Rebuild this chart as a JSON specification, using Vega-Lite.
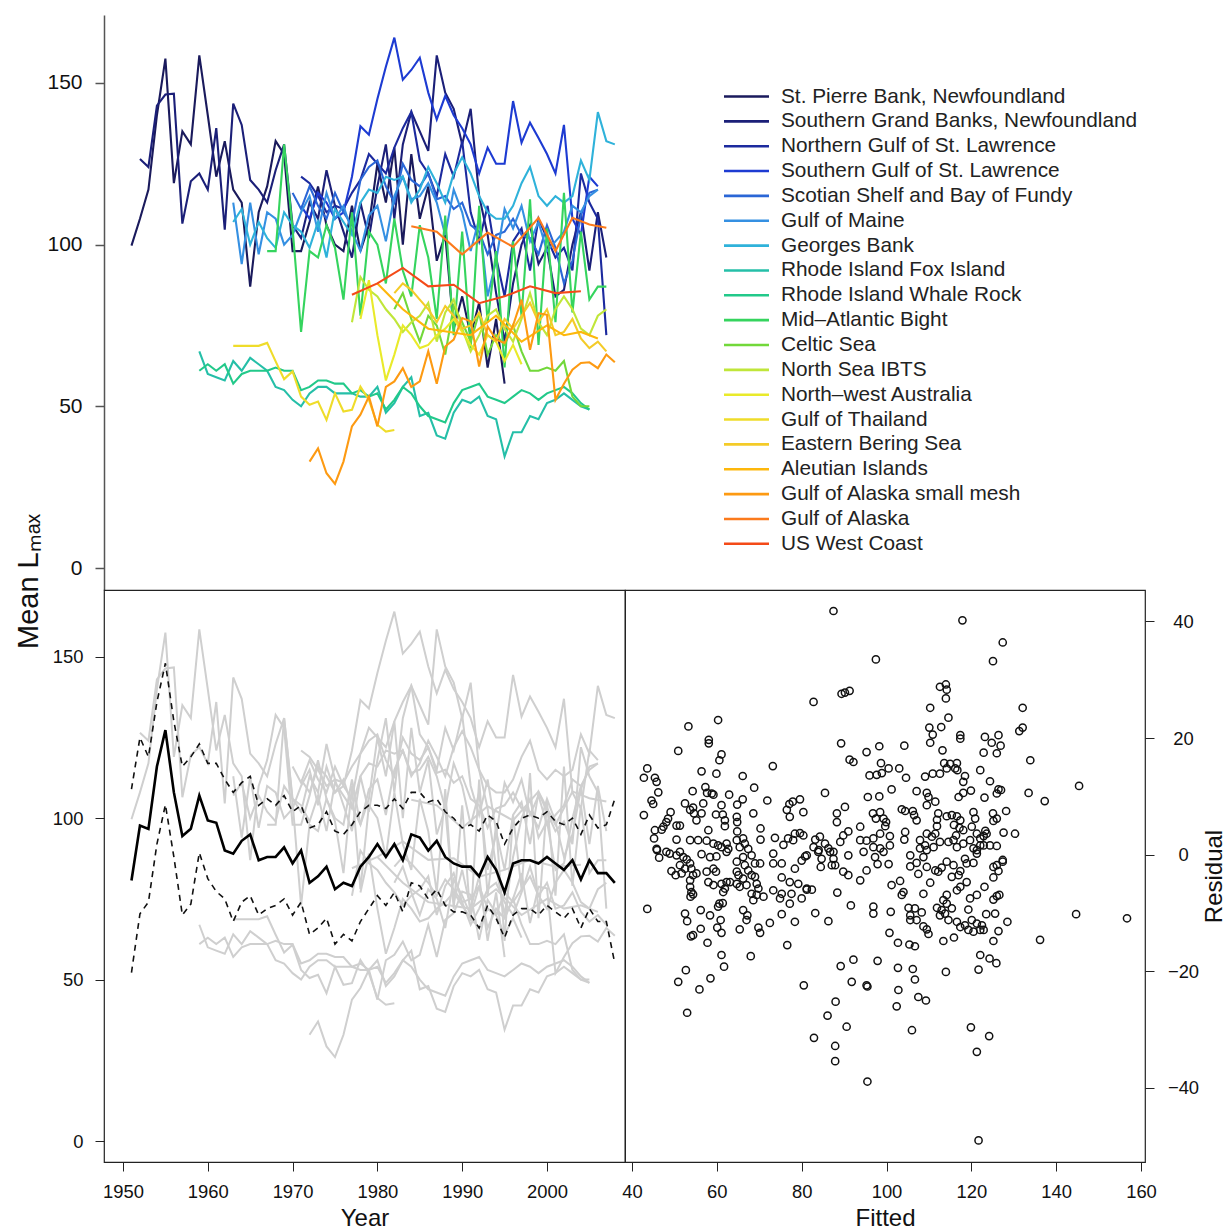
{
"$schema": "https://vega.github.io/schema/vega-lite/v6.json",
"background": "white",
"padding": {"left": 14, "top": 15, "right": 2, "bottom": 2},
"config": {
  "font": "Liberation Sans",
  "view": {"stroke": null},
  "axis": {"grid": false, "labelFont": "Liberation Sans", "titleFont": "Liberation Sans", "labelColor": "#111", "titleColor": "#111", "titleFontWeight": "normal", "domainColor": "#222", "tickColor": "#222"}
},
"datasets": {
"series": [
{"region":"St. Pierre Bank, Newfoundland","year":1951,"lmax":99.7},{"region":"St. Pierre Bank, Newfoundland","year":1952,"lmax":108},{"region":"St. Pierre Bank, Newfoundland","year":1953,"lmax":117},{"region":"St. Pierre Bank, Newfoundland","year":1954,"lmax":140},{"region":"St. Pierre Bank, Newfoundland","year":1955,"lmax":157.5},{"region":"St. Pierre Bank, Newfoundland","year":1956,"lmax":119},{"region":"St. Pierre Bank, Newfoundland","year":1957,"lmax":135},{"region":"St. Pierre Bank, Newfoundland","year":1958,"lmax":131},{"region":"St. Pierre Bank, Newfoundland","year":1959,"lmax":158.5},{"region":"St. Pierre Bank, Newfoundland","year":1960,"lmax":140},{"region":"St. Pierre Bank, Newfoundland","year":1961,"lmax":121},{"region":"St. Pierre Bank, Newfoundland","year":1962,"lmax":132},{"region":"St. Pierre Bank, Newfoundland","year":1963,"lmax":117},{"region":"St. Pierre Bank, Newfoundland","year":1964,"lmax":113},{"region":"St. Pierre Bank, Newfoundland","year":1965,"lmax":87},{"region":"St. Pierre Bank, Newfoundland","year":1966,"lmax":110},{"region":"St. Pierre Bank, Newfoundland","year":1967,"lmax":118},{"region":"St. Pierre Bank, Newfoundland","year":1968,"lmax":132},{"region":"St. Pierre Bank, Newfoundland","year":1969,"lmax":128},{"region":"St. Pierre Bank, Newfoundland","year":1970,"lmax":98},{"region":"St. Pierre Bank, Newfoundland","year":1971,"lmax":98},{"region":"St. Pierre Bank, Newfoundland","year":1972,"lmax":107},{"region":"St. Pierre Bank, Newfoundland","year":1973,"lmax":118},{"region":"St. Pierre Bank, Newfoundland","year":1974,"lmax":106},{"region":"St. Pierre Bank, Newfoundland","year":1975,"lmax":100},{"region":"St. Pierre Bank, Newfoundland","year":1976,"lmax":98},{"region":"St. Pierre Bank, Newfoundland","year":1977,"lmax":112},{"region":"St. Pierre Bank, Newfoundland","year":1978,"lmax":98},{"region":"St. Pierre Bank, Newfoundland","year":1979,"lmax":106},{"region":"St. Pierre Bank, Newfoundland","year":1980,"lmax":125},{"region":"St. Pierre Bank, Newfoundland","year":1981,"lmax":113},{"region":"St. Pierre Bank, Newfoundland","year":1982,"lmax":130},{"region":"St. Pierre Bank, Newfoundland","year":1983,"lmax":100},{"region":"St. Pierre Bank, Newfoundland","year":1984,"lmax":128},{"region":"St. Pierre Bank, Newfoundland","year":1985,"lmax":108},{"region":"St. Pierre Bank, Newfoundland","year":1986,"lmax":118},{"region":"St. Pierre Bank, Newfoundland","year":1987,"lmax":95},{"region":"St. Pierre Bank, Newfoundland","year":1988,"lmax":103},{"region":"St. Pierre Bank, Newfoundland","year":1989,"lmax":74},{"region":"St. Pierre Bank, Newfoundland","year":1990,"lmax":84},{"region":"St. Pierre Bank, Newfoundland","year":1991,"lmax":72},{"region":"St. Pierre Bank, Newfoundland","year":1992,"lmax":82},{"region":"St. Pierre Bank, Newfoundland","year":1993,"lmax":62},{"region":"St. Pierre Bank, Newfoundland","year":1994,"lmax":77},{"region":"St. Pierre Bank, Newfoundland","year":1995,"lmax":57},
{"region":"Southern Grand Banks, Newfoundland","year":1952,"lmax":126.5},{"region":"Southern Grand Banks, Newfoundland","year":1953,"lmax":124},{"region":"Southern Grand Banks, Newfoundland","year":1954,"lmax":143},{"region":"Southern Grand Banks, Newfoundland","year":1955,"lmax":146.4},{"region":"Southern Grand Banks, Newfoundland","year":1956,"lmax":146.7},{"region":"Southern Grand Banks, Newfoundland","year":1957,"lmax":106.5},{"region":"Southern Grand Banks, Newfoundland","year":1958,"lmax":119.6},{"region":"Southern Grand Banks, Newfoundland","year":1959,"lmax":122},{"region":"Southern Grand Banks, Newfoundland","year":1960,"lmax":117},{"region":"Southern Grand Banks, Newfoundland","year":1961,"lmax":136},{"region":"Southern Grand Banks, Newfoundland","year":1962,"lmax":104.6},{"region":"Southern Grand Banks, Newfoundland","year":1963,"lmax":143.6},{"region":"Southern Grand Banks, Newfoundland","year":1964,"lmax":137},{"region":"Southern Grand Banks, Newfoundland","year":1965,"lmax":120},{"region":"Southern Grand Banks, Newfoundland","year":1966,"lmax":117},{"region":"Southern Grand Banks, Newfoundland","year":1967,"lmax":113},{"region":"Southern Grand Banks, Newfoundland","year":1968,"lmax":123},{"region":"Southern Grand Banks, Newfoundland","year":1969,"lmax":131},{"region":"Southern Grand Banks, Newfoundland","year":1970,"lmax":106},{"region":"Southern Grand Banks, Newfoundland","year":1971,"lmax":102},{"region":"Southern Grand Banks, Newfoundland","year":1972,"lmax":113},{"region":"Southern Grand Banks, Newfoundland","year":1973,"lmax":108},{"region":"Southern Grand Banks, Newfoundland","year":1974,"lmax":123},{"region":"Southern Grand Banks, Newfoundland","year":1975,"lmax":112},{"region":"Southern Grand Banks, Newfoundland","year":1976,"lmax":104},{"region":"Southern Grand Banks, Newfoundland","year":1977,"lmax":96},{"region":"Southern Grand Banks, Newfoundland","year":1978,"lmax":113},{"region":"Southern Grand Banks, Newfoundland","year":1979,"lmax":102},{"region":"Southern Grand Banks, Newfoundland","year":1980,"lmax":118},{"region":"Southern Grand Banks, Newfoundland","year":1981,"lmax":131},{"region":"Southern Grand Banks, Newfoundland","year":1982,"lmax":108},{"region":"Southern Grand Banks, Newfoundland","year":1983,"lmax":131},{"region":"Southern Grand Banks, Newfoundland","year":1984,"lmax":141},{"region":"Southern Grand Banks, Newfoundland","year":1985,"lmax":135},{"region":"Southern Grand Banks, Newfoundland","year":1986,"lmax":129},{"region":"Southern Grand Banks, Newfoundland","year":1987,"lmax":158.5},{"region":"Southern Grand Banks, Newfoundland","year":1988,"lmax":147},{"region":"Southern Grand Banks, Newfoundland","year":1989,"lmax":142},{"region":"Southern Grand Banks, Newfoundland","year":1990,"lmax":131},{"region":"Southern Grand Banks, Newfoundland","year":1991,"lmax":142},{"region":"Southern Grand Banks, Newfoundland","year":1992,"lmax":115},{"region":"Southern Grand Banks, Newfoundland","year":1993,"lmax":103},{"region":"Southern Grand Banks, Newfoundland","year":1994,"lmax":85},{"region":"Southern Grand Banks, Newfoundland","year":1995,"lmax":70},{"region":"Southern Grand Banks, Newfoundland","year":1996,"lmax":88},{"region":"Southern Grand Banks, Newfoundland","year":1997,"lmax":100},{"region":"Southern Grand Banks, Newfoundland","year":1998,"lmax":106},{"region":"Southern Grand Banks, Newfoundland","year":1999,"lmax":94},{"region":"Southern Grand Banks, Newfoundland","year":2000,"lmax":99},{"region":"Southern Grand Banks, Newfoundland","year":2001,"lmax":84},{"region":"Southern Grand Banks, Newfoundland","year":2002,"lmax":86},{"region":"Southern Grand Banks, Newfoundland","year":2003,"lmax":100},{"region":"Southern Grand Banks, Newfoundland","year":2004,"lmax":110},{"region":"Southern Grand Banks, Newfoundland","year":2005,"lmax":92},{"region":"Southern Grand Banks, Newfoundland","year":2006,"lmax":110},{"region":"Southern Grand Banks, Newfoundland","year":2007,"lmax":96},
{"region":"Northern Gulf of St. Lawrence","year":1971,"lmax":121},{"region":"Northern Gulf of St. Lawrence","year":1972,"lmax":119},{"region":"Northern Gulf of St. Lawrence","year":1973,"lmax":115},{"region":"Northern Gulf of St. Lawrence","year":1974,"lmax":110},{"region":"Northern Gulf of St. Lawrence","year":1975,"lmax":112},{"region":"Northern Gulf of St. Lawrence","year":1976,"lmax":111},{"region":"Northern Gulf of St. Lawrence","year":1977,"lmax":116},{"region":"Northern Gulf of St. Lawrence","year":1978,"lmax":120},{"region":"Northern Gulf of St. Lawrence","year":1979,"lmax":128},{"region":"Northern Gulf of St. Lawrence","year":1980,"lmax":125},{"region":"Northern Gulf of St. Lawrence","year":1981,"lmax":122},{"region":"Northern Gulf of St. Lawrence","year":1982,"lmax":130},{"region":"Northern Gulf of St. Lawrence","year":1983,"lmax":136},{"region":"Northern Gulf of St. Lawrence","year":1984,"lmax":141},{"region":"Northern Gulf of St. Lawrence","year":1985,"lmax":126},{"region":"Northern Gulf of St. Lawrence","year":1986,"lmax":122},{"region":"Northern Gulf of St. Lawrence","year":1987,"lmax":115},{"region":"Northern Gulf of St. Lawrence","year":1988,"lmax":128},{"region":"Northern Gulf of St. Lawrence","year":1989,"lmax":121},{"region":"Northern Gulf of St. Lawrence","year":1990,"lmax":132},{"region":"Northern Gulf of St. Lawrence","year":1991,"lmax":110},{"region":"Northern Gulf of St. Lawrence","year":1992,"lmax":101},{"region":"Northern Gulf of St. Lawrence","year":1993,"lmax":112},{"region":"Northern Gulf of St. Lawrence","year":1994,"lmax":96},{"region":"Northern Gulf of St. Lawrence","year":1995,"lmax":84},{"region":"Northern Gulf of St. Lawrence","year":1996,"lmax":101},{"region":"Northern Gulf of St. Lawrence","year":1997,"lmax":105},{"region":"Northern Gulf of St. Lawrence","year":1998,"lmax":92},{"region":"Northern Gulf of St. Lawrence","year":1999,"lmax":108},{"region":"Northern Gulf of St. Lawrence","year":2000,"lmax":102},{"region":"Northern Gulf of St. Lawrence","year":2001,"lmax":96},{"region":"Northern Gulf of St. Lawrence","year":2002,"lmax":99},{"region":"Northern Gulf of St. Lawrence","year":2003,"lmax":92},{"region":"Northern Gulf of St. Lawrence","year":2004,"lmax":122},{"region":"Northern Gulf of St. Lawrence","year":2005,"lmax":113},{"region":"Northern Gulf of St. Lawrence","year":2006,"lmax":108},{"region":"Northern Gulf of St. Lawrence","year":2007,"lmax":72},
{"region":"Southern Gulf of St. Lawrence","year":1971,"lmax":112},{"region":"Southern Gulf of St. Lawrence","year":1972,"lmax":108},{"region":"Southern Gulf of St. Lawrence","year":1973,"lmax":116},{"region":"Southern Gulf of St. Lawrence","year":1974,"lmax":113},{"region":"Southern Gulf of St. Lawrence","year":1975,"lmax":108},{"region":"Southern Gulf of St. Lawrence","year":1976,"lmax":110},{"region":"Southern Gulf of St. Lawrence","year":1977,"lmax":121},{"region":"Southern Gulf of St. Lawrence","year":1978,"lmax":136.6},{"region":"Southern Gulf of St. Lawrence","year":1979,"lmax":134},{"region":"Southern Gulf of St. Lawrence","year":1980,"lmax":145},{"region":"Southern Gulf of St. Lawrence","year":1981,"lmax":155},{"region":"Southern Gulf of St. Lawrence","year":1982,"lmax":164},{"region":"Southern Gulf of St. Lawrence","year":1983,"lmax":151},{"region":"Southern Gulf of St. Lawrence","year":1984,"lmax":154},{"region":"Southern Gulf of St. Lawrence","year":1985,"lmax":157.8},{"region":"Southern Gulf of St. Lawrence","year":1986,"lmax":147},{"region":"Southern Gulf of St. Lawrence","year":1987,"lmax":138.7},{"region":"Southern Gulf of St. Lawrence","year":1988,"lmax":146},{"region":"Southern Gulf of St. Lawrence","year":1989,"lmax":140},{"region":"Southern Gulf of St. Lawrence","year":1990,"lmax":136},{"region":"Southern Gulf of St. Lawrence","year":1991,"lmax":131},{"region":"Southern Gulf of St. Lawrence","year":1992,"lmax":122},{"region":"Southern Gulf of St. Lawrence","year":1993,"lmax":130},{"region":"Southern Gulf of St. Lawrence","year":1994,"lmax":125},{"region":"Southern Gulf of St. Lawrence","year":1995,"lmax":125},{"region":"Southern Gulf of St. Lawrence","year":1996,"lmax":144.4},{"region":"Southern Gulf of St. Lawrence","year":1997,"lmax":131.5},{"region":"Southern Gulf of St. Lawrence","year":1998,"lmax":137.7},{"region":"Southern Gulf of St. Lawrence","year":1999,"lmax":133},{"region":"Southern Gulf of St. Lawrence","year":2000,"lmax":128},{"region":"Southern Gulf of St. Lawrence","year":2001,"lmax":122},{"region":"Southern Gulf of St. Lawrence","year":2002,"lmax":137},{"region":"Southern Gulf of St. Lawrence","year":2003,"lmax":108},{"region":"Southern Gulf of St. Lawrence","year":2004,"lmax":103},{"region":"Southern Gulf of St. Lawrence","year":2005,"lmax":121},{"region":"Southern Gulf of St. Lawrence","year":2006,"lmax":118},
{"region":"Scotian Shelf and Bay of Fundy","year":1970,"lmax":116},{"region":"Scotian Shelf and Bay of Fundy","year":1971,"lmax":111},{"region":"Scotian Shelf and Bay of Fundy","year":1972,"lmax":118},{"region":"Scotian Shelf and Bay of Fundy","year":1973,"lmax":112},{"region":"Scotian Shelf and Bay of Fundy","year":1974,"lmax":108},{"region":"Scotian Shelf and Bay of Fundy","year":1975,"lmax":116},{"region":"Scotian Shelf and Bay of Fundy","year":1976,"lmax":110},{"region":"Scotian Shelf and Bay of Fundy","year":1977,"lmax":106},{"region":"Scotian Shelf and Bay of Fundy","year":1978,"lmax":120},{"region":"Scotian Shelf and Bay of Fundy","year":1979,"lmax":124},{"region":"Scotian Shelf and Bay of Fundy","year":1980,"lmax":126},{"region":"Scotian Shelf and Bay of Fundy","year":1981,"lmax":118},{"region":"Scotian Shelf and Bay of Fundy","year":1982,"lmax":113},{"region":"Scotian Shelf and Bay of Fundy","year":1983,"lmax":125},{"region":"Scotian Shelf and Bay of Fundy","year":1984,"lmax":120},{"region":"Scotian Shelf and Bay of Fundy","year":1985,"lmax":118},{"region":"Scotian Shelf and Bay of Fundy","year":1986,"lmax":122},{"region":"Scotian Shelf and Bay of Fundy","year":1987,"lmax":114},{"region":"Scotian Shelf and Bay of Fundy","year":1988,"lmax":115},{"region":"Scotian Shelf and Bay of Fundy","year":1989,"lmax":111},{"region":"Scotian Shelf and Bay of Fundy","year":1990,"lmax":113},{"region":"Scotian Shelf and Bay of Fundy","year":1991,"lmax":106},{"region":"Scotian Shelf and Bay of Fundy","year":1992,"lmax":104},{"region":"Scotian Shelf and Bay of Fundy","year":1993,"lmax":97},{"region":"Scotian Shelf and Bay of Fundy","year":1994,"lmax":103},{"region":"Scotian Shelf and Bay of Fundy","year":1995,"lmax":104},{"region":"Scotian Shelf and Bay of Fundy","year":1996,"lmax":108},{"region":"Scotian Shelf and Bay of Fundy","year":1997,"lmax":103},{"region":"Scotian Shelf and Bay of Fundy","year":1998,"lmax":102},{"region":"Scotian Shelf and Bay of Fundy","year":1999,"lmax":97},{"region":"Scotian Shelf and Bay of Fundy","year":2000,"lmax":106},{"region":"Scotian Shelf and Bay of Fundy","year":2001,"lmax":99},{"region":"Scotian Shelf and Bay of Fundy","year":2002,"lmax":88},{"region":"Scotian Shelf and Bay of Fundy","year":2003,"lmax":95},{"region":"Scotian Shelf and Bay of Fundy","year":2004,"lmax":109},{"region":"Scotian Shelf and Bay of Fundy","year":2005,"lmax":116},{"region":"Scotian Shelf and Bay of Fundy","year":2006,"lmax":117},
{"region":"Gulf of Maine","year":1963,"lmax":113},{"region":"Gulf of Maine","year":1964,"lmax":94},{"region":"Gulf of Maine","year":1965,"lmax":113},{"region":"Gulf of Maine","year":1966,"lmax":97},{"region":"Gulf of Maine","year":1967,"lmax":110},{"region":"Gulf of Maine","year":1968,"lmax":108},{"region":"Gulf of Maine","year":1969,"lmax":100},{"region":"Gulf of Maine","year":1970,"lmax":103},{"region":"Gulf of Maine","year":1971,"lmax":110},{"region":"Gulf of Maine","year":1972,"lmax":115},{"region":"Gulf of Maine","year":1973,"lmax":104},{"region":"Gulf of Maine","year":1974,"lmax":116},{"region":"Gulf of Maine","year":1975,"lmax":108},{"region":"Gulf of Maine","year":1976,"lmax":112},{"region":"Gulf of Maine","year":1977,"lmax":104},{"region":"Gulf of Maine","year":1978,"lmax":98},{"region":"Gulf of Maine","year":1979,"lmax":109},{"region":"Gulf of Maine","year":1980,"lmax":112},{"region":"Gulf of Maine","year":1981,"lmax":101},{"region":"Gulf of Maine","year":1982,"lmax":115},{"region":"Gulf of Maine","year":1983,"lmax":121},{"region":"Gulf of Maine","year":1984,"lmax":114},{"region":"Gulf of Maine","year":1985,"lmax":115},{"region":"Gulf of Maine","year":1986,"lmax":119},{"region":"Gulf of Maine","year":1987,"lmax":113},{"region":"Gulf of Maine","year":1988,"lmax":103},{"region":"Gulf of Maine","year":1989,"lmax":117},{"region":"Gulf of Maine","year":1990,"lmax":110},{"region":"Gulf of Maine","year":1991,"lmax":98},{"region":"Gulf of Maine","year":1992,"lmax":108},{"region":"Gulf of Maine","year":1993,"lmax":84},{"region":"Gulf of Maine","year":1994,"lmax":95},{"region":"Gulf of Maine","year":1995,"lmax":111},{"region":"Gulf of Maine","year":1996,"lmax":105},{"region":"Gulf of Maine","year":1997,"lmax":112},{"region":"Gulf of Maine","year":1998,"lmax":101},{"region":"Gulf of Maine","year":1999,"lmax":107},{"region":"Gulf of Maine","year":2000,"lmax":98},{"region":"Gulf of Maine","year":2001,"lmax":101},{"region":"Gulf of Maine","year":2002,"lmax":104},{"region":"Gulf of Maine","year":2003,"lmax":112},{"region":"Gulf of Maine","year":2004,"lmax":110},{"region":"Gulf of Maine","year":2005,"lmax":115},{"region":"Gulf of Maine","year":2006,"lmax":117},
{"region":"Georges Bank","year":1963,"lmax":107},{"region":"Georges Bank","year":1964,"lmax":111},{"region":"Georges Bank","year":1965,"lmax":100},{"region":"Georges Bank","year":1966,"lmax":107},{"region":"Georges Bank","year":1967,"lmax":102},{"region":"Georges Bank","year":1968,"lmax":99},{"region":"Georges Bank","year":1969,"lmax":110},{"region":"Georges Bank","year":1970,"lmax":106},{"region":"Georges Bank","year":1971,"lmax":104},{"region":"Georges Bank","year":1972,"lmax":99},{"region":"Georges Bank","year":1973,"lmax":107},{"region":"Georges Bank","year":1974,"lmax":96},{"region":"Georges Bank","year":1975,"lmax":111},{"region":"Georges Bank","year":1976,"lmax":107},{"region":"Georges Bank","year":1977,"lmax":103},{"region":"Georges Bank","year":1978,"lmax":113},{"region":"Georges Bank","year":1979,"lmax":117},{"region":"Georges Bank","year":1980,"lmax":116},{"region":"Georges Bank","year":1981,"lmax":121},{"region":"Georges Bank","year":1982,"lmax":120},{"region":"Georges Bank","year":1983,"lmax":121},{"region":"Georges Bank","year":1984,"lmax":113},{"region":"Georges Bank","year":1985,"lmax":117},{"region":"Georges Bank","year":1986,"lmax":124},{"region":"Georges Bank","year":1987,"lmax":119},{"region":"Georges Bank","year":1988,"lmax":113},{"region":"Georges Bank","year":1989,"lmax":122},{"region":"Georges Bank","year":1990,"lmax":127},{"region":"Georges Bank","year":1991,"lmax":122},{"region":"Georges Bank","year":1992,"lmax":115},{"region":"Georges Bank","year":1993,"lmax":110},{"region":"Georges Bank","year":1994,"lmax":108},{"region":"Georges Bank","year":1995,"lmax":108},{"region":"Georges Bank","year":1996,"lmax":112},{"region":"Georges Bank","year":1997,"lmax":119},{"region":"Georges Bank","year":1998,"lmax":124},{"region":"Georges Bank","year":1999,"lmax":115},{"region":"Georges Bank","year":2000,"lmax":112},{"region":"Georges Bank","year":2001,"lmax":115},{"region":"Georges Bank","year":2002,"lmax":113},{"region":"Georges Bank","year":2003,"lmax":115},{"region":"Georges Bank","year":2004,"lmax":126},{"region":"Georges Bank","year":2005,"lmax":120},{"region":"Georges Bank","year":2006,"lmax":141},{"region":"Georges Bank","year":2007,"lmax":132},{"region":"Georges Bank","year":2008,"lmax":131},
{"region":"Rhode Island Fox Island","year":1959,"lmax":67},{"region":"Rhode Island Fox Island","year":1960,"lmax":60},{"region":"Rhode Island Fox Island","year":1961,"lmax":59},{"region":"Rhode Island Fox Island","year":1962,"lmax":58},{"region":"Rhode Island Fox Island","year":1963,"lmax":64},{"region":"Rhode Island Fox Island","year":1964,"lmax":61},{"region":"Rhode Island Fox Island","year":1965,"lmax":65},{"region":"Rhode Island Fox Island","year":1966,"lmax":63},{"region":"Rhode Island Fox Island","year":1967,"lmax":61},{"region":"Rhode Island Fox Island","year":1968,"lmax":56},{"region":"Rhode Island Fox Island","year":1969,"lmax":55},{"region":"Rhode Island Fox Island","year":1970,"lmax":52},{"region":"Rhode Island Fox Island","year":1971,"lmax":50},{"region":"Rhode Island Fox Island","year":1972,"lmax":54},{"region":"Rhode Island Fox Island","year":1973,"lmax":56},{"region":"Rhode Island Fox Island","year":1974,"lmax":56},{"region":"Rhode Island Fox Island","year":1975,"lmax":54},{"region":"Rhode Island Fox Island","year":1976,"lmax":54},{"region":"Rhode Island Fox Island","year":1977,"lmax":54},{"region":"Rhode Island Fox Island","year":1978,"lmax":53},{"region":"Rhode Island Fox Island","year":1979,"lmax":53},{"region":"Rhode Island Fox Island","year":1980,"lmax":56},{"region":"Rhode Island Fox Island","year":1981,"lmax":48},{"region":"Rhode Island Fox Island","year":1982,"lmax":51},{"region":"Rhode Island Fox Island","year":1983,"lmax":56},{"region":"Rhode Island Fox Island","year":1984,"lmax":59},{"region":"Rhode Island Fox Island","year":1985,"lmax":47},{"region":"Rhode Island Fox Island","year":1986,"lmax":48},{"region":"Rhode Island Fox Island","year":1987,"lmax":41},{"region":"Rhode Island Fox Island","year":1988,"lmax":40},{"region":"Rhode Island Fox Island","year":1989,"lmax":48},{"region":"Rhode Island Fox Island","year":1990,"lmax":52},{"region":"Rhode Island Fox Island","year":1991,"lmax":51},{"region":"Rhode Island Fox Island","year":1992,"lmax":53},{"region":"Rhode Island Fox Island","year":1993,"lmax":47},{"region":"Rhode Island Fox Island","year":1994,"lmax":46},{"region":"Rhode Island Fox Island","year":1995,"lmax":34.5},{"region":"Rhode Island Fox Island","year":1996,"lmax":42},{"region":"Rhode Island Fox Island","year":1997,"lmax":42},{"region":"Rhode Island Fox Island","year":1998,"lmax":47},{"region":"Rhode Island Fox Island","year":1999,"lmax":46},{"region":"Rhode Island Fox Island","year":2000,"lmax":51},{"region":"Rhode Island Fox Island","year":2001,"lmax":52},{"region":"Rhode Island Fox Island","year":2002,"lmax":54},{"region":"Rhode Island Fox Island","year":2003,"lmax":52},{"region":"Rhode Island Fox Island","year":2004,"lmax":50},{"region":"Rhode Island Fox Island","year":2005,"lmax":49},
{"region":"Rhode Island Whale Rock","year":1959,"lmax":61},{"region":"Rhode Island Whale Rock","year":1960,"lmax":63},{"region":"Rhode Island Whale Rock","year":1961,"lmax":61},{"region":"Rhode Island Whale Rock","year":1962,"lmax":63},{"region":"Rhode Island Whale Rock","year":1963,"lmax":57},{"region":"Rhode Island Whale Rock","year":1964,"lmax":60},{"region":"Rhode Island Whale Rock","year":1965,"lmax":61},{"region":"Rhode Island Whale Rock","year":1966,"lmax":61},{"region":"Rhode Island Whale Rock","year":1967,"lmax":61},{"region":"Rhode Island Whale Rock","year":1968,"lmax":62},{"region":"Rhode Island Whale Rock","year":1969,"lmax":61},{"region":"Rhode Island Whale Rock","year":1970,"lmax":61},{"region":"Rhode Island Whale Rock","year":1971,"lmax":55},{"region":"Rhode Island Whale Rock","year":1972,"lmax":56},{"region":"Rhode Island Whale Rock","year":1973,"lmax":58},{"region":"Rhode Island Whale Rock","year":1974,"lmax":58},{"region":"Rhode Island Whale Rock","year":1975,"lmax":57},{"region":"Rhode Island Whale Rock","year":1976,"lmax":57},{"region":"Rhode Island Whale Rock","year":1977,"lmax":54},{"region":"Rhode Island Whale Rock","year":1978,"lmax":55},{"region":"Rhode Island Whale Rock","year":1979,"lmax":53},{"region":"Rhode Island Whale Rock","year":1980,"lmax":54},{"region":"Rhode Island Whale Rock","year":1981,"lmax":49},{"region":"Rhode Island Whale Rock","year":1982,"lmax":52},{"region":"Rhode Island Whale Rock","year":1983,"lmax":56},{"region":"Rhode Island Whale Rock","year":1984,"lmax":54},{"region":"Rhode Island Whale Rock","year":1985,"lmax":50},{"region":"Rhode Island Whale Rock","year":1986,"lmax":47},{"region":"Rhode Island Whale Rock","year":1987,"lmax":46},{"region":"Rhode Island Whale Rock","year":1988,"lmax":45},{"region":"Rhode Island Whale Rock","year":1989,"lmax":51},{"region":"Rhode Island Whale Rock","year":1990,"lmax":55},{"region":"Rhode Island Whale Rock","year":1991,"lmax":56},{"region":"Rhode Island Whale Rock","year":1992,"lmax":57},{"region":"Rhode Island Whale Rock","year":1993,"lmax":53},{"region":"Rhode Island Whale Rock","year":1994,"lmax":52},{"region":"Rhode Island Whale Rock","year":1995,"lmax":51},{"region":"Rhode Island Whale Rock","year":1996,"lmax":53},{"region":"Rhode Island Whale Rock","year":1997,"lmax":55},{"region":"Rhode Island Whale Rock","year":1998,"lmax":54},{"region":"Rhode Island Whale Rock","year":1999,"lmax":52},{"region":"Rhode Island Whale Rock","year":2000,"lmax":54},{"region":"Rhode Island Whale Rock","year":2001,"lmax":55},{"region":"Rhode Island Whale Rock","year":2002,"lmax":56},{"region":"Rhode Island Whale Rock","year":2003,"lmax":54},{"region":"Rhode Island Whale Rock","year":2004,"lmax":51},{"region":"Rhode Island Whale Rock","year":2005,"lmax":49},
{"region":"Mid–Atlantic Bight","year":1967,"lmax":98},{"region":"Mid–Atlantic Bight","year":1968,"lmax":98},{"region":"Mid–Atlantic Bight","year":1969,"lmax":131},{"region":"Mid–Atlantic Bight","year":1970,"lmax":105},{"region":"Mid–Atlantic Bight","year":1971,"lmax":73},{"region":"Mid–Atlantic Bight","year":1972,"lmax":98},{"region":"Mid–Atlantic Bight","year":1973,"lmax":96},{"region":"Mid–Atlantic Bight","year":1974,"lmax":106},{"region":"Mid–Atlantic Bight","year":1975,"lmax":99},{"region":"Mid–Atlantic Bight","year":1976,"lmax":83},{"region":"Mid–Atlantic Bight","year":1977,"lmax":110},{"region":"Mid–Atlantic Bight","year":1978,"lmax":78},{"region":"Mid–Atlantic Bight","year":1979,"lmax":104},{"region":"Mid–Atlantic Bight","year":1980,"lmax":100},{"region":"Mid–Atlantic Bight","year":1981,"lmax":88},{"region":"Mid–Atlantic Bight","year":1982,"lmax":108},{"region":"Mid–Atlantic Bight","year":1983,"lmax":92},{"region":"Mid–Atlantic Bight","year":1984,"lmax":84},{"region":"Mid–Atlantic Bight","year":1985,"lmax":106},{"region":"Mid–Atlantic Bight","year":1986,"lmax":96},{"region":"Mid–Atlantic Bight","year":1987,"lmax":77},{"region":"Mid–Atlantic Bight","year":1988,"lmax":109},{"region":"Mid–Atlantic Bight","year":1989,"lmax":72},{"region":"Mid–Atlantic Bight","year":1990,"lmax":104},{"region":"Mid–Atlantic Bight","year":1991,"lmax":68},{"region":"Mid–Atlantic Bight","year":1992,"lmax":112},{"region":"Mid–Atlantic Bight","year":1993,"lmax":76},{"region":"Mid–Atlantic Bight","year":1994,"lmax":98},{"region":"Mid–Atlantic Bight","year":1995,"lmax":62},{"region":"Mid–Atlantic Bight","year":1996,"lmax":101},{"region":"Mid–Atlantic Bight","year":1997,"lmax":78},{"region":"Mid–Atlantic Bight","year":1998,"lmax":114},{"region":"Mid–Atlantic Bight","year":1999,"lmax":69},{"region":"Mid–Atlantic Bight","year":2000,"lmax":105},{"region":"Mid–Atlantic Bight","year":2001,"lmax":76},{"region":"Mid–Atlantic Bight","year":2002,"lmax":116},{"region":"Mid–Atlantic Bight","year":2003,"lmax":79},{"region":"Mid–Atlantic Bight","year":2004,"lmax":104},{"region":"Mid–Atlantic Bight","year":2005,"lmax":83},{"region":"Mid–Atlantic Bight","year":2006,"lmax":87},{"region":"Mid–Atlantic Bight","year":2007,"lmax":87},
{"region":"Celtic Sea","year":1982,"lmax":80},{"region":"Celtic Sea","year":1983,"lmax":85},{"region":"Celtic Sea","year":1984,"lmax":77},{"region":"Celtic Sea","year":1985,"lmax":70},{"region":"Celtic Sea","year":1986,"lmax":78},{"region":"Celtic Sea","year":1987,"lmax":75},{"region":"Celtic Sea","year":1988,"lmax":66},{"region":"Celtic Sea","year":1989,"lmax":81},{"region":"Celtic Sea","year":1990,"lmax":76},{"region":"Celtic Sea","year":1991,"lmax":70},{"region":"Celtic Sea","year":1992,"lmax":79},{"region":"Celtic Sea","year":1993,"lmax":66},{"region":"Celtic Sea","year":1994,"lmax":72},{"region":"Celtic Sea","year":1995,"lmax":69},{"region":"Celtic Sea","year":1996,"lmax":75},{"region":"Celtic Sea","year":1997,"lmax":67},{"region":"Celtic Sea","year":1998,"lmax":61},{"region":"Celtic Sea","year":1999,"lmax":61},{"region":"Celtic Sea","year":2000,"lmax":62},{"region":"Celtic Sea","year":2001,"lmax":61},{"region":"Celtic Sea","year":2002,"lmax":64},{"region":"Celtic Sea","year":2003,"lmax":53},{"region":"Celtic Sea","year":2004,"lmax":50},{"region":"Celtic Sea","year":2005,"lmax":50},
{"region":"North Sea IBTS","year":1977,"lmax":76},{"region":"North Sea IBTS","year":1978,"lmax":90},{"region":"North Sea IBTS","year":1979,"lmax":86},{"region":"North Sea IBTS","year":1980,"lmax":84},{"region":"North Sea IBTS","year":1981,"lmax":80},{"region":"North Sea IBTS","year":1982,"lmax":77},{"region":"North Sea IBTS","year":1983,"lmax":73},{"region":"North Sea IBTS","year":1984,"lmax":76},{"region":"North Sea IBTS","year":1985,"lmax":78},{"region":"North Sea IBTS","year":1986,"lmax":82},{"region":"North Sea IBTS","year":1987,"lmax":70},{"region":"North Sea IBTS","year":1988,"lmax":79},{"region":"North Sea IBTS","year":1989,"lmax":83},{"region":"North Sea IBTS","year":1990,"lmax":74},{"region":"North Sea IBTS","year":1991,"lmax":67},{"region":"North Sea IBTS","year":1992,"lmax":72},{"region":"North Sea IBTS","year":1993,"lmax":78},{"region":"North Sea IBTS","year":1994,"lmax":80},{"region":"North Sea IBTS","year":1995,"lmax":74},{"region":"North Sea IBTS","year":1996,"lmax":70},{"region":"North Sea IBTS","year":1997,"lmax":77},{"region":"North Sea IBTS","year":1998,"lmax":85},{"region":"North Sea IBTS","year":1999,"lmax":76},{"region":"North Sea IBTS","year":2000,"lmax":72},{"region":"North Sea IBTS","year":2001,"lmax":80},{"region":"North Sea IBTS","year":2002,"lmax":84},{"region":"North Sea IBTS","year":2003,"lmax":80},{"region":"North Sea IBTS","year":2004,"lmax":74},{"region":"North Sea IBTS","year":2005,"lmax":72},{"region":"North Sea IBTS","year":2006,"lmax":78},{"region":"North Sea IBTS","year":2007,"lmax":80},
{"region":"North–west Australia","year":1978,"lmax":77},{"region":"North–west Australia","year":1979,"lmax":89},{"region":"North–west Australia","year":1980,"lmax":72},{"region":"North–west Australia","year":1981,"lmax":58},{"region":"North–west Australia","year":1982,"lmax":66},{"region":"North–west Australia","year":1983,"lmax":75},{"region":"North–west Australia","year":1984,"lmax":72},{"region":"North–west Australia","year":1985,"lmax":68},{"region":"North–west Australia","year":1986,"lmax":69},{"region":"North–west Australia","year":1987,"lmax":72},{"region":"North–west Australia","year":1988,"lmax":74},{"region":"North–west Australia","year":1989,"lmax":77},{"region":"North–west Australia","year":1990,"lmax":73},{"region":"North–west Australia","year":1991,"lmax":69},{"region":"North–west Australia","year":1992,"lmax":66},{"region":"North–west Australia","year":1993,"lmax":72},{"region":"North–west Australia","year":1994,"lmax":70},{"region":"North–west Australia","year":1995,"lmax":64},{"region":"North–west Australia","year":1996,"lmax":69},{"region":"North–west Australia","year":1997,"lmax":63},
{"region":"Gulf of Thailand","year":1963,"lmax":68.7},{"region":"Gulf of Thailand","year":1964,"lmax":68.7},{"region":"Gulf of Thailand","year":1965,"lmax":68.7},{"region":"Gulf of Thailand","year":1966,"lmax":68.7},{"region":"Gulf of Thailand","year":1967,"lmax":69.6},{"region":"Gulf of Thailand","year":1968,"lmax":63.9},{"region":"Gulf of Thailand","year":1969,"lmax":58.4},{"region":"Gulf of Thailand","year":1970,"lmax":60.8},{"region":"Gulf of Thailand","year":1971,"lmax":53},{"region":"Gulf of Thailand","year":1972,"lmax":50.5},{"region":"Gulf of Thailand","year":1973,"lmax":51.5},{"region":"Gulf of Thailand","year":1974,"lmax":45.8},{"region":"Gulf of Thailand","year":1975,"lmax":54},{"region":"Gulf of Thailand","year":1976,"lmax":48.4},{"region":"Gulf of Thailand","year":1977,"lmax":48.9},{"region":"Gulf of Thailand","year":1978,"lmax":56.1},{"region":"Gulf of Thailand","year":1979,"lmax":52},{"region":"Gulf of Thailand","year":1980,"lmax":44.3},{"region":"Gulf of Thailand","year":1981,"lmax":42.2},{"region":"Gulf of Thailand","year":1982,"lmax":42.7},
{"region":"Eastern Bering Sea","year":1982,"lmax":85},{"region":"Eastern Bering Sea","year":1983,"lmax":88},{"region":"Eastern Bering Sea","year":1984,"lmax":86},{"region":"Eastern Bering Sea","year":1985,"lmax":83},{"region":"Eastern Bering Sea","year":1986,"lmax":80},{"region":"Eastern Bering Sea","year":1987,"lmax":76},{"region":"Eastern Bering Sea","year":1988,"lmax":81},{"region":"Eastern Bering Sea","year":1989,"lmax":78},{"region":"Eastern Bering Sea","year":1990,"lmax":74},{"region":"Eastern Bering Sea","year":1991,"lmax":75},{"region":"Eastern Bering Sea","year":1992,"lmax":79},{"region":"Eastern Bering Sea","year":1993,"lmax":72},{"region":"Eastern Bering Sea","year":1994,"lmax":70},{"region":"Eastern Bering Sea","year":1995,"lmax":77},{"region":"Eastern Bering Sea","year":1996,"lmax":74},{"region":"Eastern Bering Sea","year":1997,"lmax":78},{"region":"Eastern Bering Sea","year":1998,"lmax":82},{"region":"Eastern Bering Sea","year":1999,"lmax":76},{"region":"Eastern Bering Sea","year":2000,"lmax":80},{"region":"Eastern Bering Sea","year":2001,"lmax":72},{"region":"Eastern Bering Sea","year":2002,"lmax":73},{"region":"Eastern Bering Sea","year":2003,"lmax":77},{"region":"Eastern Bering Sea","year":2004,"lmax":71},{"region":"Eastern Bering Sea","year":2005,"lmax":68},{"region":"Eastern Bering Sea","year":2006,"lmax":70},{"region":"Eastern Bering Sea","year":2007,"lmax":67},
{"region":"Aleutian Islands","year":1980,"lmax":88},{"region":"Aleutian Islands","year":1983,"lmax":80},{"region":"Aleutian Islands","year":1986,"lmax":74},{"region":"Aleutian Islands","year":1991,"lmax":72},{"region":"Aleutian Islands","year":1994,"lmax":78},{"region":"Aleutian Islands","year":1997,"lmax":70},{"region":"Aleutian Islands","year":2000,"lmax":75},{"region":"Aleutian Islands","year":2002,"lmax":72},{"region":"Aleutian Islands","year":2004,"lmax":73},{"region":"Aleutian Islands","year":2006,"lmax":71},
{"region":"Gulf of Alaska small mesh","year":1972,"lmax":32.9},{"region":"Gulf of Alaska small mesh","year":1973,"lmax":37},{"region":"Gulf of Alaska small mesh","year":1974,"lmax":29.3},{"region":"Gulf of Alaska small mesh","year":1975,"lmax":26},{"region":"Gulf of Alaska small mesh","year":1976,"lmax":32.9},{"region":"Gulf of Alaska small mesh","year":1977,"lmax":43.8},{"region":"Gulf of Alaska small mesh","year":1978,"lmax":47.4},{"region":"Gulf of Alaska small mesh","year":1979,"lmax":53},{"region":"Gulf of Alaska small mesh","year":1980,"lmax":43.8},{"region":"Gulf of Alaska small mesh","year":1981,"lmax":56},{"region":"Gulf of Alaska small mesh","year":1982,"lmax":57.7},{"region":"Gulf of Alaska small mesh","year":1983,"lmax":61.8},{"region":"Gulf of Alaska small mesh","year":1984,"lmax":56},{"region":"Gulf of Alaska small mesh","year":1985,"lmax":57.7},{"region":"Gulf of Alaska small mesh","year":1986,"lmax":67},{"region":"Gulf of Alaska small mesh","year":1987,"lmax":57},{"region":"Gulf of Alaska small mesh","year":1988,"lmax":68.5},{"region":"Gulf of Alaska small mesh","year":1989,"lmax":70.6},{"region":"Gulf of Alaska small mesh","year":1990,"lmax":77.3},{"region":"Gulf of Alaska small mesh","year":1991,"lmax":76.3},{"region":"Gulf of Alaska small mesh","year":1992,"lmax":62.3},{"region":"Gulf of Alaska small mesh","year":1993,"lmax":74.7},{"region":"Gulf of Alaska small mesh","year":1994,"lmax":70.6},{"region":"Gulf of Alaska small mesh","year":1995,"lmax":69.6},{"region":"Gulf of Alaska small mesh","year":1996,"lmax":75},{"region":"Gulf of Alaska small mesh","year":1997,"lmax":83},{"region":"Gulf of Alaska small mesh","year":1998,"lmax":67.5},{"region":"Gulf of Alaska small mesh","year":1999,"lmax":78.8},{"region":"Gulf of Alaska small mesh","year":2000,"lmax":78.3},{"region":"Gulf of Alaska small mesh","year":2001,"lmax":52},{"region":"Gulf of Alaska small mesh","year":2002,"lmax":57},{"region":"Gulf of Alaska small mesh","year":2003,"lmax":61.3},{"region":"Gulf of Alaska small mesh","year":2004,"lmax":63.4},{"region":"Gulf of Alaska small mesh","year":2005,"lmax":63.6},{"region":"Gulf of Alaska small mesh","year":2006,"lmax":61.8},{"region":"Gulf of Alaska small mesh","year":2007,"lmax":66},{"region":"Gulf of Alaska small mesh","year":2008,"lmax":63.6},
{"region":"Gulf of Alaska","year":1984,"lmax":105.7},{"region":"Gulf of Alaska","year":1987,"lmax":104},{"region":"Gulf of Alaska","year":1990,"lmax":97},{"region":"Gulf of Alaska","year":1993,"lmax":103.7},{"region":"Gulf of Alaska","year":1996,"lmax":99.3},{"region":"Gulf of Alaska","year":1999,"lmax":108.3},{"region":"Gulf of Alaska","year":2001,"lmax":98},{"region":"Gulf of Alaska","year":2003,"lmax":108.3},{"region":"Gulf of Alaska","year":2005,"lmax":106.2},{"region":"Gulf of Alaska","year":2007,"lmax":105.2},
{"region":"US West Coast","year":1977,"lmax":84.5},{"region":"US West Coast","year":1980,"lmax":88},{"region":"US West Coast","year":1983,"lmax":92.8},{"region":"US West Coast","year":1986,"lmax":87.1},{"region":"US West Coast","year":1989,"lmax":87.6},{"region":"US West Coast","year":1992,"lmax":81.9},{"region":"US West Coast","year":1995,"lmax":84},{"region":"US West Coast","year":1998,"lmax":87.1},{"region":"US West Coast","year":2001,"lmax":85},{"region":"US West Coast","year":2004,"lmax":85.6}
],
"band": [
{"year":1951,"mean":80.7,"upper":109,"lower":52.2},{"year":1952,"mean":97.7,"upper":125,"lower":70.4},{"year":1953,"mean":96.7,"upper":119,"lower":74},{"year":1954,"mean":116,"upper":136,"lower":92},{"year":1955,"mean":127.3,"upper":148,"lower":104.2},{"year":1956,"mean":108,"upper":130,"lower":88},{"year":1957,"mean":94.5,"upper":116,"lower":70},{"year":1958,"mean":96.7,"upper":119,"lower":73.4},{"year":1959,"mean":107,"upper":123,"lower":89.3},{"year":1960,"mean":99.3,"upper":117,"lower":81.3},{"year":1961,"mean":98.6,"upper":117,"lower":77.3},{"year":1962,"mean":90,"upper":112,"lower":75},{"year":1963,"mean":89,"upper":108,"lower":68},{"year":1964,"mean":93,"upper":111,"lower":74},{"year":1965,"mean":95,"upper":113,"lower":76},{"year":1966,"mean":87,"upper":104,"lower":70},{"year":1967,"mean":88,"upper":106,"lower":72},{"year":1968,"mean":88,"upper":104,"lower":73},{"year":1969,"mean":91,"upper":107,"lower":75},{"year":1970,"mean":86,"upper":102,"lower":70},{"year":1971,"mean":90,"upper":104,"lower":74},{"year":1972,"mean":80,"upper":97,"lower":64},{"year":1973,"mean":82,"upper":98,"lower":66},{"year":1974,"mean":85,"upper":102,"lower":69},{"year":1975,"mean":78,"upper":96,"lower":61},{"year":1976,"mean":80,"upper":95,"lower":64},{"year":1977,"mean":79,"upper":98,"lower":62},{"year":1978,"mean":85,"upper":102,"lower":68},{"year":1979,"mean":88,"upper":104,"lower":72},{"year":1980,"mean":92,"upper":104,"lower":76},{"year":1981,"mean":88,"upper":103,"lower":73},{"year":1982,"mean":92,"upper":106,"lower":77},{"year":1983,"mean":87,"upper":103,"lower":71},{"year":1984,"mean":95,"upper":108,"lower":80},{"year":1985,"mean":94,"upper":108,"lower":79},{"year":1986,"mean":90,"upper":105,"lower":75},{"year":1987,"mean":93,"upper":106,"lower":78},{"year":1988,"mean":88,"upper":102,"lower":73},{"year":1989,"mean":86,"upper":100,"lower":71},{"year":1990,"mean":85,"upper":97,"lower":71},{"year":1991,"mean":85,"upper":98,"lower":70},{"year":1992,"mean":82,"upper":96,"lower":66},{"year":1993,"mean":88,"upper":101,"lower":73},{"year":1994,"mean":84,"upper":99,"lower":69},{"year":1995,"mean":77,"upper":92,"lower":63},{"year":1996,"mean":86,"upper":97,"lower":70},{"year":1997,"mean":87,"upper":100,"lower":72},{"year":1998,"mean":87,"upper":101,"lower":72},{"year":1999,"mean":86,"upper":100,"lower":70},{"year":2000,"mean":88,"upper":102,"lower":73},{"year":2001,"mean":86,"upper":99,"lower":71},{"year":2002,"mean":84,"upper":98,"lower":69},{"year":2003,"mean":87,"upper":100,"lower":72},{"year":2004,"mean":81,"upper":95,"lower":66},{"year":2005,"mean":87,"upper":101,"lower":72},{"year":2006,"mean":83,"upper":97,"lower":68},{"year":2007,"mean":83,"upper":98,"lower":68},{"year":2008,"mean":80,"upper":106,"lower":55}
],
"resid": [
{"fitted":53.3,"residual":22.0},{"fitted":60.3,"residual":23.1},{"fitted":58.1,"residual":19.7},{"fitted":58.1,"residual":19.1},{"fitted":50.9,"residual":17.8},{"fitted":61.1,"residual":17.2},{"fitted":60.6,"residual":16.2},{"fitted":73.2,"residual":15.2},{"fitted":43.6,"residual":14.8},{"fitted":42.8,"residual":13.2},{"fitted":45.4,"residual":13.2},{"fitted":45.8,"residual":12.5},{"fitted":56.4,"residual":14.3},{"fitted":59.9,"residual":13.9},{"fitted":66.1,"residual":13.5},{"fitted":46.2,"residual":10.7},{"fitted":54.3,"residual":10.9},{"fitted":57.3,"residual":11.6},{"fitted":57.7,"residual":10.6},{"fitted":58.8,"residual":10.5},{"fitted":59.2,"residual":10.3},{"fitted":68.8,"residual":11.5},{"fitted":62.9,"residual":10.3},{"fitted":44.6,"residual":9.3},{"fitted":45.0,"residual":8.7},{"fitted":52.5,"residual":8.8},{"fitted":53.7,"residual":7.7},{"fitted":54.4,"residual":8.1},{"fitted":56.8,"residual":8.8},{"fitted":61.1,"residual":8.5},{"fitted":64.8,"residual":8.6},{"fitted":66.1,"residual":9.5},{"fitted":71.9,"residual":9.3},{"fitted":77.9,"residual":9.1},{"fitted":77.1,"residual":8.7},{"fitted":79.6,"residual":9.5},{"fitted":76.5,"residual":7.7},{"fitted":80.4,"residual":7.3},{"fitted":42.8,"residual":6.8},{"fitted":49.1,"residual":7.3},{"fitted":54.6,"residual":7.1},{"fitted":56.4,"residual":7.1},{"fitted":55.2,"residual":5.9},{"fitted":59.8,"residual":6.9},{"fitted":61.4,"residual":6.9},{"fitted":61.9,"residual":5.9},{"fitted":68.6,"residual":7.1},{"fitted":64.7,"residual":6.5},{"fitted":64.8,"residual":5.6},{"fitted":77.2,"residual":6.5},{"fitted":48.5,"residual":6.2},{"fitted":48.1,"residual":5.6},{"fitted":47.4,"residual":4.8},{"fitted":50.5,"residual":5.0},{"fitted":51.3,"residual":5.0},{"fitted":47.0,"residual":4.3},{"fitted":45.4,"residual":4.2},{"fitted":45.2,"residual":2.8},{"fitted":61.9,"residual":4.9},{"fitted":70.3,"residual":4.5},{"fitted":58.0,"residual":4.2},{"fitted":64.8,"residual":4.0},{"fitted":78.4,"residual":3.6},{"fitted":79.6,"residual":3.7},{"fitted":80.4,"residual":3.3},{"fitted":76.8,"residual":2.8},{"fitted":75.7,"residual":1.7},{"fitted":78.0,"residual":2.5},{"fitted":70.3,"residual":2.6},{"fitted":73.7,"residual":2.9},{"fitted":50.5,"residual":2.6},{"fitted":53.7,"residual":2.5},{"fitted":55.6,"residual":2.5},{"fitted":57.6,"residual":2.4},{"fitted":59.2,"residual":1.9},{"fitted":60.3,"residual":1.6},{"fitted":62.3,"residual":1.9},{"fitted":61.1,"residual":1.3},{"fitted":62.7,"residual":1.0},{"fitted":64.7,"residual":2.5},{"fitted":66.2,"residual":2.8},{"fitted":66.6,"residual":1.9},{"fitted":65.4,"residual":1.3},{"fitted":67.4,"residual":1.0},{"fitted":45.8,"residual":1.0},{"fitted":48.1,"residual":0.5},{"fitted":51.3,"residual":0.5},
{"fitted":45.9,"residual":0.8},{"fitted":46.4,"residual":-0.5},{"fitted":48.9,"residual":0.2},{"fitted":50.5,"residual":-0.1},{"fitted":52.1,"residual":-0.4},{"fitted":52.9,"residual":-0.8},{"fitted":53.7,"residual":-1.5},{"fitted":54.0,"residual":-2.4},{"fitted":51.3,"residual":-1.8},{"fitted":52.5,"residual":-2.4},{"fitted":49.3,"residual":-2.8},{"fitted":50.3,"residual":-3.5},{"fitted":51.7,"residual":-3.2},{"fitted":54.4,"residual":-3.5},{"fitted":55.2,"residual":-3.2},{"fitted":53.7,"residual":-4.4},{"fitted":56.4,"residual":0.1},{"fitted":58.4,"residual":-0.4},{"fitted":59.9,"residual":-0.3},{"fitted":62.3,"residual":0.5},{"fitted":57.6,"residual":-2.9},{"fitted":59.2,"residual":-2.4},{"fitted":59.8,"residual":-2.9},{"fitted":58.0,"residual":-4.7},{"fitted":59.2,"residual":-5.2},{"fitted":61.1,"residual":-5.0},{"fitted":61.9,"residual":-5.8},{"fitted":62.3,"residual":-4.7},{"fitted":63.1,"residual":-4.7},{"fitted":61.5,"residual":-6.4},{"fitted":64.7,"residual":-1.2},{"fitted":66.2,"residual":-0.4},{"fitted":66.6,"residual":-1.8},{"fitted":68.2,"residual":-0.1},{"fitted":69.0,"residual":-1.5},{"fitted":70.2,"residual":-1.5},{"fitted":67.4,"residual":-2.7},{"fitted":68.2,"residual":-3.5},{"fitted":69.0,"residual":-3.8},{"fitted":65.1,"residual":-3.5},{"fitted":66.2,"residual":-4.1},{"fitted":64.7,"residual":-5.0},{"fitted":65.4,"residual":-5.5},{"fitted":67.0,"residual":-5.2},{"fitted":69.4,"residual":-5.0},{"fitted":69.8,"residual":-5.8},{"fitted":68.2,"residual":-6.7},{"fitted":69.4,"residual":-6.9},{"fitted":71.0,"residual":-7.2},{"fitted":68.6,"residual":-7.8},{"fitted":64.7,"residual":-2.9},{"fitted":73.3,"residual":-1.5},{"fitted":75.3,"residual":-1.5},{"fitted":73.3,"residual":0.2},{"fitted":78.4,"residual":-2.4},{"fitted":80.0,"residual":-1.0},{"fitted":80.8,"residual":-0.3},{"fitted":75.3,"residual":-3.9},{"fitted":77.2,"residual":-4.7},{"fitted":79.2,"residual":-5.0},{"fitted":73.3,"residual":-6.1},{"fitted":75.3,"residual":-6.7},{"fitted":77.6,"residual":-6.7},{"fitted":80.0,"residual":-7.5},{"fitted":74.9,"residual":-7.5},{"fitted":77.2,"residual":-8.4},{"fitted":81.2,"residual":-5.8},{"fitted":53.7,"residual":-5.5},{"fitted":54.0,"residual":-6.4},{"fitted":54.4,"residual":-6.8},{"fitted":53.8,"residual":-7.2},{"fitted":43.6,"residual":-9.3},{"fitted":52.5,"residual":-10.1},{"fitted":53.0,"residual":-11.4},{"fitted":56.2,"residual":-9.5},{"fitted":58.4,"residual":-10.4},{"fitted":60.6,"residual":-8.4},{"fitted":61.4,"residual":-8.3},{"fitted":60.3,"residual":-8.9},{"fitted":60.9,"residual":-11.2},{"fitted":60.1,"residual":-12.5},{"fitted":61.1,"residual":-13.4},{"fitted":66.2,"residual":-9.5},{"fitted":67.2,"residual":-10.4},{"fitted":67.0,"residual":-11.2},{"fitted":56.2,"residual":-12.7},{"fitted":54.4,"residual":-13.8},{"fitted":53.9,"residual":-14.0},{"fitted":57.8,"residual":-15.1},{"fitted":65.4,"residual":-12.8},{"fitted":69.8,"residual":-12.5},{"fitted":70.2,"residual":-13.4},{"fitted":72.5,"residual":-11.7},{"fitted":75.3,"residual":-10.2},{"fitted":78.4,"residual":-11.5},{"fitted":76.6,"residual":-15.5},{"fitted":61.1,"residual":-17.2},{"fitted":68.0,"residual":-17.4},{"fitted":61.7,"residual":-19.2},{"fitted":52.7,"residual":-19.8},{"fitted":50.9,"residual":-21.8},{"fitted":58.5,"residual":-21.2},{"fitted":55.9,"residual":-23.1},{"fitted":53.0,"residual":-27.1},{"fitted":80.5,"residual":-22.4},
{"fitted":87.5,"residual":41.8},{"fitted":117.9,"residual":40.2},{"fitted":97.5,"residual":33.5},{"fitted":89.4,"residual":27.6},{"fitted":90.2,"residual":27.8},{"fitted":91.3,"residual":28.1},{"fitted":82.8,"residual":26.2},{"fitted":112.6,"residual":28.8},{"fitted":114.0,"residual":29.2},{"fitted":114.2,"residual":28.3},{"fitted":114.0,"residual":26.8},{"fitted":110.3,"residual":25.2},{"fitted":114.6,"residual":23.5},{"fitted":110.1,"residual":21.8},{"fitted":112.9,"residual":21.9},{"fitted":110.9,"residual":20.6},{"fitted":110.3,"residual":19.2},{"fitted":113.2,"residual":17.9},{"fitted":117.4,"residual":20.5},{"fitted":117.4,"residual":19.9},{"fitted":89.3,"residual":19.1},{"fitted":98.3,"residual":18.6},{"fitted":95.3,"residual":17.6},{"fitted":104.2,"residual":18.7},{"fitted":91.3,"residual":16.3},{"fitted":92.2,"residual":15.9},{"fitted":98.7,"residual":15.7},{"fitted":100.5,"residual":14.8},{"fitted":98.9,"residual":14.0},{"fitted":97.7,"residual":13.7},{"fitted":96.0,"residual":13.6},{"fitted":103.0,"residual":14.8},{"fitted":104.6,"residual":13.2},{"fitted":109.1,"residual":13.4},{"fitted":110.9,"residual":13.9},{"fitted":112.6,"residual":13.9},{"fitted":113.6,"residual":15.7},{"fitted":115.0,"residual":15.6},{"fitted":116.6,"residual":15.7},{"fitted":116.2,"residual":14.8},{"fitted":116.7,"residual":14.5},{"fitted":114.2,"residual":14.8},{"fitted":118.5,"residual":13.5},{"fitted":118.1,"residual":12.5},{"fitted":122.1,"residual":14.5},{"fitted":85.5,"residual":10.6},{"fitted":101.2,"residual":11.2},{"fitted":107.1,"residual":10.9},{"fitted":109.5,"residual":10.6},{"fitted":109.9,"residual":9.9},{"fitted":111.5,"residual":9.1},{"fitted":109.5,"residual":8.5},{"fitted":117.0,"residual":9.9},{"fitted":118.1,"residual":10.6},{"fitted":119.9,"residual":11.0},{"fitted":95.6,"residual":9.9},{"fitted":98.3,"residual":10.0},{"fitted":90.2,"residual":8.2},{"fitted":88.3,"residual":7.1},{"fitted":88.3,"residual":5.6},{"fitted":96.8,"residual":7.1},{"fitted":98.5,"residual":7.3},{"fitted":97.5,"residual":6.2},{"fitted":99.3,"residual":6.2},{"fitted":99.9,"residual":5.6},{"fitted":99.7,"residual":4.9},{"fitted":103.6,"residual":7.8},{"fitted":104.4,"residual":7.5},{"fitted":106.2,"residual":7.5},{"fitted":106.5,"residual":6.8},{"fitted":107.1,"residual":5.9},{"fitted":93.8,"residual":4.8},{"fitted":91.0,"residual":4.0},{"fitted":89.8,"residual":3.3},{"fitted":89.1,"residual":2.2},{"fitted":112.2,"residual":7.1},{"fitted":111.9,"residual":6.0},{"fitted":111.9,"residual":4.9},{"fitted":111.5,"residual":3.6},{"fitted":114.2,"residual":6.6},{"fitted":115.4,"residual":6.8},{"fitted":116.6,"residual":6.6},{"fitted":117.4,"residual":5.9},{"fitted":115.9,"residual":5.1},{"fitted":117.2,"residual":4.6},{"fitted":118.1,"residual":4.2},{"fitted":116.4,"residual":3.3},{"fitted":120.5,"residual":7.3},{"fitted":120.9,"residual":6.2},{"fitted":120.1,"residual":4.8},{"fitted":121.3,"residual":3.6},{"fitted":83.2,"residual":2.6},{"fitted":84.3,"residual":3.1},{"fitted":85.5,"residual":1.9},{"fitted":82.8,"residual":1.3},{"fitted":84.0,"residual":0.8},{"fitted":86.3,"residual":1.1},{"fitted":87.5,"residual":0.5},{"fitted":93.8,"residual":2.5},{"fitted":95.3,"residual":2.4},{"fitted":96.9,"residual":2.8},{"fitted":98.5,"residual":3.6},{"fitted":100.8,"residual":3.2},{"fitted":100.8,"residual":1.6},{"fitted":98.5,"residual":1.1},{"fitted":96.9,"residual":1.3},{"fitted":104.4,"residual":3.9},{"fitted":104.2,"residual":2.6},{"fitted":107.9,"residual":2.5},{"fitted":109.1,"residual":1.6},{"fitted":109.5,"residual":3.6},{"fitted":110.7,"residual":3.1},{"fitted":107.9,"residual":1.1},{"fitted":109.5,"residual":0.8},{"fitted":111.1,"residual":1.3},{"fitted":112.6,"residual":2.2},{"fitted":114.6,"residual":2.2},{"fitted":115.8,"residual":2.5},{"fitted":116.6,"residual":1.3},{"fitted":118.1,"residual":1.9},{"fitted":119.7,"residual":2.5},{"fitted":120.5,"residual":1.1},{"fitted":122.1,"residual":1.6},
{"fitted":81.2,"residual":-0.1},{"fitted":83.9,"residual":0.5},{"fitted":84.7,"residual":-0.7},{"fitted":86.7,"residual":0.5},{"fitted":87.5,"residual":-0.7},{"fitted":87.9,"residual":-1.8},{"fitted":91.0,"residual":-0.1},{"fitted":84.5,"residual":-2.1},{"fitted":87.1,"residual":-1.8},{"fitted":89.8,"residual":-2.9},{"fitted":91.0,"residual":-3.5},{"fitted":93.8,"residual":-4.4},{"fitted":95.3,"residual":-2.7},{"fitted":97.9,"residual":-1.6},{"fitted":100.5,"residual":-1.6},{"fitted":94.6,"residual":0.5},{"fitted":97.3,"residual":-0.4},{"fitted":99.3,"residual":0.5},{"fitted":105.6,"residual":-0.1},{"fitted":107.1,"residual":-1.4},{"fitted":108.7,"residual":-0.4},{"fitted":109.5,"residual":-2.1},{"fitted":107.5,"residual":-3.3},{"fitted":105.6,"residual":-2.0},{"fitted":111.5,"residual":-2.7},{"fitted":113.0,"residual":-2.2},{"fitted":112.2,"residual":-2.9},{"fitted":114.2,"residual":-1.2},{"fitted":115.8,"residual":-1.8},{"fitted":115.4,"residual":-3.8},{"fitted":117.4,"residual":-2.8},{"fitted":117.0,"residual":-3.5},{"fitted":118.5,"residual":-0.7},{"fitted":118.9,"residual":-1.5},{"fitted":120.5,"residual":-1.4},{"fitted":121.3,"residual":0.2},{"fitted":118.9,"residual":-4.7},{"fitted":117.4,"residual":-5.5},{"fitted":116.6,"residual":-6.1},{"fitted":119.7,"residual":-7.5},{"fitted":121.3,"residual":-6.9},{"fitted":114.2,"residual":-6.9},{"fitted":101.2,"residual":-5.2},{"fitted":103.2,"residual":-4.5},{"fitted":104.0,"residual":-6.4},{"fitted":103.6,"residual":-6.9},{"fitted":108.7,"residual":-6.7},{"fitted":110.3,"residual":-4.8},{"fitted":81.2,"residual":-6.0},{"fitted":82.4,"residual":-6.0},{"fitted":88.4,"residual":-6.5},{"fitted":91.6,"residual":-8.7},{"fitted":83.2,"residual":-10.0},{"fitted":86.3,"residual":-11.4},{"fitted":96.9,"residual":-8.9},{"fitted":96.9,"residual":-10.1},{"fitted":101.0,"residual":-9.8},{"fitted":105.2,"residual":-9.1},{"fitted":106.7,"residual":-9.2},{"fitted":105.6,"residual":-10.4},{"fitted":105.6,"residual":-11.2},{"fitted":107.1,"residual":-11.2},{"fitted":108.3,"residual":-9.9},{"fitted":108.7,"residual":-12.3},{"fitted":109.5,"residual":-12.8},{"fitted":109.9,"residual":-13.6},{"fitted":111.9,"residual":-9.1},{"fitted":112.6,"residual":-10.4},{"fitted":113.0,"residual":-9.5},{"fitted":113.8,"residual":-10.1},{"fitted":114.6,"residual":-11.2},{"fitted":115.4,"residual":-9.2},{"fitted":114.2,"residual":-8.4},{"fitted":113.4,"residual":-7.8},{"fitted":116.6,"residual":-11.5},{"fitted":117.4,"residual":-12.4},{"fitted":118.5,"residual":-12.1},{"fitted":119.3,"residual":-12.9},{"fitted":120.1,"residual":-11.2},{"fitted":121.3,"residual":-11.8},{"fitted":120.5,"residual":-13.2},{"fitted":122.1,"residual":-12.9},{"fitted":119.3,"residual":-9.4},{"fitted":100.7,"residual":-13.4},{"fitted":102.7,"residual":-15.1},{"fitted":105.4,"residual":-15.4},{"fitted":106.7,"residual":-15.7},{"fitted":113.4,"residual":-14.8},{"fitted":115.9,"residual":-14.2},{"fitted":122.1,"residual":-17.2},{"fitted":121.7,"residual":-19.7},{"fitted":89.2,"residual":-19.1},{"fitted":92.2,"residual":-18.0},{"fitted":97.9,"residual":-18.2},{"fitted":91.8,"residual":-21.8},{"fitted":95.3,"residual":-22.4},{"fitted":95.5,"residual":-22.6},{"fitted":102.7,"residual":-19.4},{"fitted":106.2,"residual":-19.6},{"fitted":106.7,"residual":-21.4},{"fitted":114.0,"residual":-20.1},{"fitted":102.8,"residual":-23.2},{"fitted":107.5,"residual":-24.4},{"fitted":109.3,"residual":-25.0},{"fitted":102.4,"residual":-26.0},{"fitted":88.0,"residual":-25.2},{"fitted":86.1,"residual":-27.6},{"fitted":90.6,"residual":-29.5},{"fitted":82.9,"residual":-31.4},{"fitted":87.9,"residual":-32.8},{"fitted":87.9,"residual":-35.4},{"fitted":95.5,"residual":-38.9},{"fitted":106.0,"residual":-30.1},{"fitted":119.9,"residual":-29.6},{"fitted":121.3,"residual":-33.8},
{"fitted":127.4,"residual":36.4},{"fitted":125.1,"residual":33.2},{"fitted":132.1,"residual":25.2},{"fitted":132.1,"residual":21.8},{"fitted":131.3,"residual":21.2},{"fitted":123.2,"residual":20.2},{"fitted":126.4,"residual":20.5},{"fitted":124.8,"residual":19.2},{"fitted":126.9,"residual":18.7},{"fitted":122.9,"residual":17.5},{"fitted":126.0,"residual":17.4},{"fitted":133.9,"residual":16.2},{"fitted":124.4,"residual":12.6},{"fitted":126.4,"residual":11.2},{"fitted":127.0,"residual":11.1},{"fitted":126.0,"residual":10.5},{"fitted":123.1,"residual":9.8},{"fitted":133.5,"residual":10.6},{"fitted":137.3,"residual":9.2},{"fitted":145.4,"residual":11.8},{"fitted":125.1,"residual":7.1},{"fitted":126.0,"residual":6.2},{"fitted":125.2,"residual":5.8},{"fitted":128.2,"residual":7.5},{"fitted":123.3,"residual":4.1},{"fitted":123.6,"residual":3.6},{"fitted":122.9,"residual":3.2},{"fitted":122.1,"residual":2.8},{"fitted":122.9,"residual":1.6},{"fitted":124.4,"residual":1.6},{"fitted":126.0,"residual":1.5},{"fitted":127.6,"residual":3.8},{"fitted":130.3,"residual":3.6},{"fitted":121.3,"residual":0.8},{"fitted":127.4,"residual":-0.9},
{"fitted":125.2,"residual":-2.1},{"fitted":126.0,"residual":-1.8},{"fitted":126.4,"residual":-2.8},{"fitted":127.4,"residual":-1.2},{"fitted":125.2,"residual":-3.9},{"fitted":123.1,"residual":-5.5},{"fitted":125.2,"residual":-7.7},{"fitted":126.0,"residual":-7.1},{"fitted":126.6,"residual":-6.9},{"fitted":123.5,"residual":-10.2},{"fitted":125.6,"residual":-10.1},{"fitted":122.5,"residual":-12.1},{"fitted":122.9,"residual":-12.9},{"fitted":126.4,"residual":-13.1},{"fitted":128.5,"residual":-11.5},{"fitted":125.2,"residual":-14.8},{"fitted":124.3,"residual":-17.8},{"fitted":125.9,"residual":-18.6},{"fitted":144.7,"residual":-10.2},{"fitted":156.7,"residual":-10.9},{"fitted":136.2,"residual":-14.6},{"fitted":124.2,"residual":-31.1},{"fitted":121.7,"residual":-49.0}
]
},
"vconcat": [
  {
    "width": 521, "height": 575,
    "layer": [
      {
        "data": {"name": "series"},
        "mark": {"type": "line", "strokeWidth": 2.1},
        "encoding": {
          "x": {"field": "year", "type": "quantitative", "scale": {"domain": [1947.76, 2009.2], "nice": false, "zero": false}, "axis": null},
          "y": {"field": "lmax", "type": "quantitative", "scale": {"domain": [-6.8, 171], "nice": false, "zero": false},
                "axis": {"values": [0, 50, 100, 150], "title": "Mean Lₘₐₓ", "titleFontSize": 29, "titleX": -76, "titleY": 566, "titleAngle": 270, "titleAlign": "center", "titleBaseline": "middle", "labelFontSize": 21, "tickSize": 9, "labelPadding": 13, "domainColor": "#555", "domainWidth": 1.5, "tickColor": "#555", "tickWidth": 1.5}},
          "color": {"field": "region", "type": "nominal",
                    "scale": {"domain": ["St. Pierre Bank, Newfoundland","Southern Grand Banks, Newfoundland","Northern Gulf of St. Lawrence","Southern Gulf of St. Lawrence","Scotian Shelf and Bay of Fundy","Gulf of Maine","Georges Bank","Rhode Island Fox Island","Rhode Island Whale Rock","Mid–Atlantic Bight","Celtic Sea","North Sea IBTS","North–west Australia","Gulf of Thailand","Eastern Bering Sea","Aleutian Islands","Gulf of Alaska small mesh","Gulf of Alaska","US West Coast"],
                              "range": ["#1a1a5c","#1b1f78","#1c2a9e","#1d3bd2","#2a66d6","#3590e2","#2fb2da","#25bfa8","#22c98a","#35d45e","#72d83a","#c0e63a","#e9ea2a","#efdc2a","#f4cb28","#fdb70c","#fd9a12","#fb7a1c","#f44a18"]},
                    "legend": {"orient": "none", "legendX": 632, "legendY": 71, "title": null, "padding": 0, "symbolType": "M-2.5,0L2.5,0", "symbolSize": 324, "symbolStrokeWidth": 2.6, "labelFontSize": 20.8, "labelFont": "Liberation Sans", "labelColor": "#222", "rowPadding": 2.85, "labelOffset": 24, "labelLimit": 600}}
        }
      },
      {
        "mark": {"type": "text", "fontWeight": "bold", "fontSize": 14, "align": "center", "baseline": "middle", "color": "#111"},
        "encoding": {"x": {"datum": 1949.4, "type": "quantitative"}, "y": {"datum": 163, "type": "quantitative"}, "text": {"value": "A"}}
      }
    ]
  },
  {
    "hconcat": [
      {
        "width": 521, "height": 572,
        "view": {"stroke": "#222", "strokeWidth": 1.2},
        "layer": [
          {
            "data": {"name": "series"},
            "mark": {"type": "line", "color": "#cfcfcf", "strokeWidth": 2},
            "encoding": {
              "x": {"field": "year", "type": "quantitative", "scale": {"domain": [1947.76, 2009.2], "nice": false, "zero": false},
                    "axis": {"values": [1950, 1960, 1970, 1980, 1990, 2000], "format": "d", "title": "Year", "titleFontSize": 24, "titlePadding": 6, "labelFontSize": 18.4, "tickSize": 9, "labelPadding": 11, "domain": false}},
              "y": {"field": "lmax", "type": "quantitative", "title": null, "scale": {"domain": [-6.5, 170.7], "nice": false, "zero": false},
                    "axis": {"values": [0, 50, 100, 150], "labelFontSize": 18.4, "tickSize": 9, "labelPadding": 12, "domain": false, "title": null}},
              "detail": {"field": "region"}
            }
          },
          {
            "data": {"name": "band"},
            "mark": {"type": "line", "color": "#111", "strokeWidth": 1.6, "strokeDash": [6, 5]},
            "encoding": {"x": {"field": "year", "type": "quantitative"}, "y": {"field": "upper", "type": "quantitative", "title": null}}
          },
          {
            "data": {"name": "band"},
            "mark": {"type": "line", "color": "#111", "strokeWidth": 1.6, "strokeDash": [6, 5]},
            "encoding": {"x": {"field": "year", "type": "quantitative"}, "y": {"field": "lower", "type": "quantitative", "title": null}}
          },
          {
            "data": {"name": "band"},
            "mark": {"type": "line", "color": "#000", "strokeWidth": 2.6},
            "encoding": {"x": {"field": "year", "type": "quantitative"}, "y": {"field": "mean", "type": "quantitative", "title": null}}
          },
          {
            "mark": {"type": "text", "fontWeight": "bold", "fontSize": 14, "align": "center", "baseline": "middle", "color": "#111"},
            "encoding": {"x": {"datum": 1949.4, "type": "quantitative"}, "y": {"datum": 163.6, "type": "quantitative"}, "text": {"value": "B"}}
          }
        ]
      },
      {
        "width": 520, "height": 572,
        "view": {"stroke": "#222", "strokeWidth": 1.2},
        "layer": [
          {
            "data": {"name": "resid"},
            "mark": {"type": "point", "shape": "circle", "filled": false, "size": 52, "strokeWidth": 1.5, "color": "#111", "opacity": 1},
            "encoding": {
              "x": {"field": "fitted", "type": "quantitative", "scale": {"domain": [38.35, 160.94], "nice": false, "zero": false},
                    "axis": {"values": [40, 60, 80, 100, 120, 140, 160], "title": "Fitted", "titleFontSize": 24, "titlePadding": 6, "labelFontSize": 18.4, "tickSize": 9, "labelPadding": 11, "domain": false}},
              "y": {"field": "residual", "type": "quantitative", "scale": {"domain": [-52.7, 45.4], "nice": false, "zero": false},
                    "axis": {"orient": "right", "values": [-40, -20, 0, 20, 40], "title": "Residual", "titleFontSize": 24, "titleAngle": 270, "titleX": 69, "titleY": 286, "titleAlign": "center", "titleBaseline": "middle", "labelFontSize": 18.4, "labelAlign": "center", "tickSize": 9, "labelPadding": 29, "domain": false}}
            }
          },
          {
            "mark": {"type": "rule", "strokeDash": [6, 4], "color": "#222", "strokeWidth": 1.2},
            "encoding": {"y": {"datum": 0, "type": "quantitative"}}
          },
          {
            "mark": {"type": "text", "fontWeight": "bold", "fontSize": 14, "align": "center", "baseline": "middle", "color": "#111"},
            "encoding": {"x": {"datum": 47.1, "type": "quantitative"}, "y": {"datum": 41.6, "type": "quantitative"}, "text": {"value": "C"}}
          }
        ]
      }
    ],
    "spacing": 0,
    "bounds": "flush",
    "resolve": {"scale": {"x": "independent", "y": "independent"}}
  }
],
"spacing": 0,
"bounds": "flush",
"resolve": {"scale": {"x": "independent", "y": "independent", "color": "independent"}, "legend": {"color": "independent"}}
}
